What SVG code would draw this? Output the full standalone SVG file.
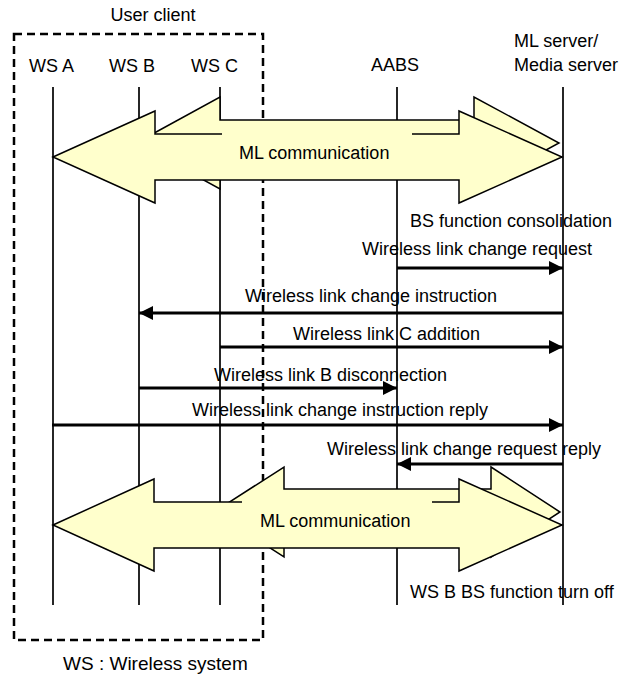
<svg xmlns="http://www.w3.org/2000/svg" width="635" height="677" viewBox="0 0 635 677">
<defs>
<style>
text{font-family:"Liberation Sans",Arial,sans-serif;font-size:18px;fill:#000}
.life{stroke:#000;stroke-width:1.7;fill:none}
.msg{stroke:#000;stroke-width:3;fill:none;marker-end:url(#ah)}
.big{fill:#ffffcc;stroke:#000;stroke-width:1.5;stroke-linejoin:miter}
.cover{fill:#ffffcc;stroke:none}
.box{fill:none;stroke:#000;stroke-width:2.5;stroke-dasharray:8 5}
</style>
<marker id="ah" markerUnits="userSpaceOnUse" markerWidth="15" markerHeight="14" refX="14" refY="7" orient="auto">
<path d="M0,0 L14,7 L0,14 z" fill="#000"/>
</marker>
</defs>
<rect width="635" height="677" fill="#fff"/>

<g id="user-client">
<rect class="box" x="14" y="34" width="249" height="606"/>
<text x="153" y="20.5" text-anchor="middle">User client</text>
<text x="63" y="670" style="font-size:19px">WS : Wireless system</text>
</g>

<g id="ws-a">
<text x="29" y="72">WS A</text>
<line class="life" x1="53" y1="87" x2="53" y2="605"/>
</g>
<g id="ws-b">
<text x="109" y="72">WS B</text>
<line class="life" x1="139" y1="87" x2="139" y2="605"/>
</g>
<g id="ws-c">
<text x="191" y="72">WS C</text>
<line class="life" x1="220" y1="87" x2="220" y2="605"/>
</g>
<g id="aabs">
<text x="371" y="71">AABS</text>
<line class="life" x1="397" y1="87" x2="397" y2="605"/>
</g>
<g id="ml-server">
<text x="514" y="47">ML server/</text>
<text x="514" y="71">Media server</text>
<line class="life" x1="563" y1="87" x2="563" y2="605"/>
</g>

<g id="ml-communication-top">
<polygon class="big" points="136,143 220,97 220,120 474,120 474,97 559,143 474,189 474,166 220,166 220,189"/>
<polygon class="big" points="53,157 155,111 155,134 459,134 459,111 562,157 459,203 459,180 155,180 155,203"/>
<rect class="cover" x="222" y="126" width="190" height="46"/>
<text x="239" y="159">ML communication</text>
</g>

<g id="ml-communication-bottom">
<polygon class="big" points="214,512 284,467 284,489 491,489 491,467 560,512 491,557 491,535 284,535 284,557"/>
<polygon class="big" points="53,525 154,479 154,502 459,502 459,479 562,525 459,571 459,548 154,548 154,571"/>
<rect class="cover" x="242" y="495" width="190" height="46"/>
<text x="260" y="527">ML communication</text>
</g>

<g id="notes">
<text x="410" y="227">BS function consolidation</text>
<text x="410" y="598">WS B BS function turn off</text>
</g>

<g id="connectors">
<line class="msg" x1="397" y1="268" x2="563" y2="268"/>
<text x="362" y="255">Wireless link change request</text>
<line class="msg" x1="563" y1="313" x2="139" y2="313"/>
<text x="245" y="302">Wireless link change instruction</text>
<line class="msg" x1="220" y1="347" x2="563" y2="347"/>
<text x="293" y="340">Wireless link C addition</text>
<line class="msg" x1="139" y1="388" x2="397" y2="388"/>
<text x="214" y="381">Wireless link B disconnection</text>
<line class="msg" x1="52" y1="425" x2="563" y2="425"/>
<text x="192" y="416">Wireless link change instruction reply</text>
<line class="msg" x1="563" y1="464" x2="397" y2="464"/>
<text x="327" y="455">Wireless link change request reply</text>
</g>
</svg>
